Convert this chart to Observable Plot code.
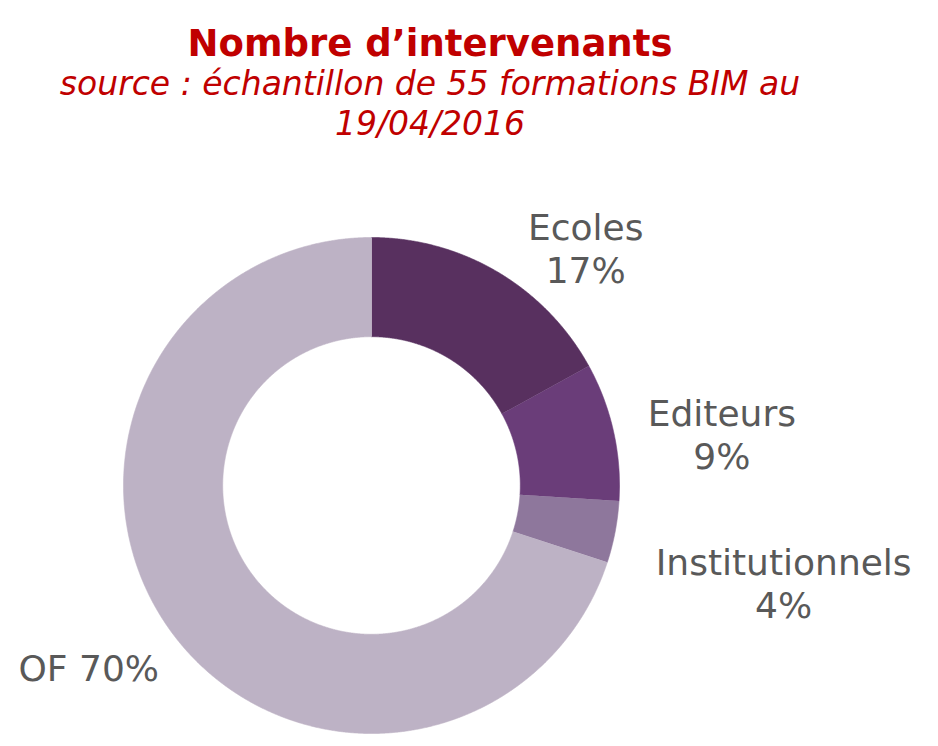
<!DOCTYPE html>
<html>
<head>
<meta charset="utf-8">
<script src="https://cdn.jsdelivr.net/npm/d3@7"></script>
<script src="https://cdn.jsdelivr.net/npm/@observablehq/plot@0.6"></script>
<style>
  html, body { margin: 0; padding: 0; background: #fff; }
  #hdr { position: relative; height: 160px; width: 938px; }
  .t { position: absolute; left: 0; width: 860px; text-align: center; color: #c00000; font-family: "DejaVu Sans", Verdana, sans-serif; white-space: nowrap; }
  #title { top: 22px; font-weight: bold; font-size: 37px; line-height: 44px; }
  #sub { top: 64px; font-style: italic; font-size: 33px; line-height: 40px; }
</style>
</head>
<body>
<div id="hdr">
  <div class="t" id="title">Nombre d’intervenants</div>
  <div class="t" id="sub">source : échantillon de 55 formations BIM au<br>19/04/2016</div>
</div>
<div id="chart"></div>
<script>
// ---- data ----
const categories = ["Ecoles", "Editeurs", "Institutionnels", "OF"];
const shares = [17, 9, 4, 70];
const labelTexts = ["Ecoles\n17%", "Editeurs\n9%", "Institutionnels\n4%", "OF 70%"];

// ---- style / layout ----
const palette = ["#58305f", "#6a3d79", "#8e779c", "#bdb2c5"];
const innerRatio = 0.6;
const outerPx = 248;
const labelRadius = 1.15;
const labelOffsetPx = [[69, 7.5], [72, 10], [132, 44], [-52, 14]];

const total = d3.sum(shares);
let cum = 0;
const slices = categories.map((c, i) => {
  const a0 = cum / total * 2 * Math.PI;
  cum += shares[i];
  const a1 = cum / total * 2 * Math.PI;
  return {key: c, a0, a1, i};
});

const arcPoints = [];
for (const s of slices) {
  const n = Math.max(2, Math.ceil((s.a1 - s.a0) / (Math.PI / 720)));
  for (let k = 0; k <= n; k++) {
    const a = s.a0 + (s.a1 - s.a0) * k / n;
    arcPoints.push({key: s.key, x: Math.sin(a), y: Math.cos(a)});
  }
  for (let k = n; k >= 0; k--) {
    const a = s.a0 + (s.a1 - s.a0) * k / n;
    arcPoints.push({key: s.key, x: innerRatio * Math.sin(a), y: innerRatio * Math.cos(a)});
  }
}

const labelData = slices.map((s, i) => {
  const m = (s.a0 + s.a1) / 2;
  return {
    text: labelTexts[i],
    x: labelRadius * Math.sin(m) + labelOffsetPx[i][0] / outerPx,
    y: labelRadius * Math.cos(m) - labelOffsetPx[i][1] / outerPx
  };
});

const chart = Plot.plot({
  width: 938,
  height: 586,
  marginLeft: 123,
  marginRight: 319,
  marginTop: 77,
  marginBottom: 13,
  x: {domain: [-1, 1], axis: null},
  y: {domain: [-1, 1], axis: null},
  color: {domain: categories, range: palette},
  style: {fontFamily: "DejaVu Sans, Verdana, sans-serif", background: "white", overflow: "visible"},
  marks: [
    Plot.line(arcPoints, {x: "x", y: "y", z: "key", fill: "key", stroke: "key", strokeWidth: 0.6}),
    Plot.text(labelData, {
      x: "x", y: "y", text: "text",
      fill: "#595959", fontSize: 36, lineHeight: 1.2,
      textAnchor: "middle", lineAnchor: "middle"
    })
  ]
});
document.getElementById("chart").appendChild(chart);
</script>
</body>
</html>
